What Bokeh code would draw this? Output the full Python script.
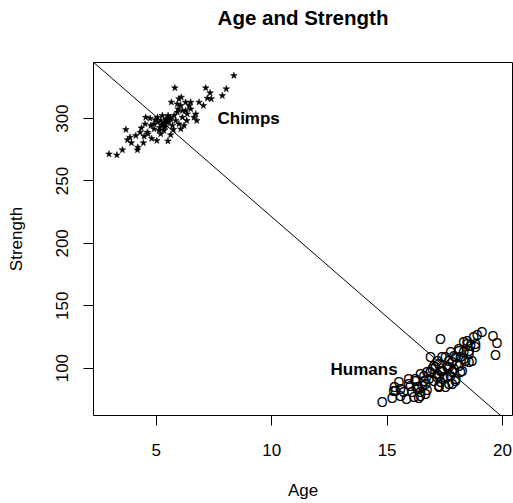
from bokeh.plotting import figure
from bokeh.models import Range1d, FixedTicker, Slope, ColumnDataSource, Title
from bokeh.embed import file_html
from bokeh.resources import INLINE
from bokeh.core.properties import value

# ---- data ----
chimp_age = [2.95, 3.29, 3.53, 4.18, 3.68, 3.86, 3.92, 4.11, 4.44, 4.47, 4.64, 5.02, 4.54, 4.73,
             4.51, 4.90, 5.19, 5.33, 5.62, 5.74, 5.31, 5.05, 5.19, 5.41, 5.51, 5.70, 5.84, 5.98,
             6.06, 6.20, 6.13, 5.91, 5.94, 6.06, 6.27, 6.42, 6.49, 6.34, 6.32, 5.65, 5.98, 6.08,
             5.80, 6.49, 6.63, 6.75, 6.71, 6.85, 7.04, 7.14, 7.33, 7.21, 7.38, 7.86, 8.03, 8.36,
             5.05, 5.26, 4.90, 4.76, 4.61, 5.77, 5.62, 5.48, 5.33, 5.12, 6.13, 6.27, 5.91,
             5.35, 5.45, 5.25, 5.55, 5.40, 5.60, 4.95, 5.15, 4.30, 4.80, 4.20, 5.50, 3.75, 4.35]
chimp_strength = [271.6, 270.8, 274.9, 274.9, 291.2, 285.0, 280.5, 286.3, 280.5, 285.8, 287.7, 282.3,
                  301.0, 300.2, 295.7, 291.7, 287.7, 290.4, 286.9, 291.2, 295.7, 297.0, 298.4, 299.7,
                  302.4, 294.4, 298.4, 295.7, 291.7, 294.4, 301.0, 305.1, 307.7, 310.4, 313.1, 310.4,
                  307.7, 303.7, 298.4, 313.1, 315.8, 317.1, 324.6, 313.1, 301.0, 298.4, 303.7, 313.1,
                  310.4, 324.6, 320.6, 316.3, 315.8, 318.4, 323.8, 334.5,
                  301.0, 302.4, 295.7, 294.4, 289.0, 302.4, 299.7, 297.0, 293.0, 290.4, 306.4, 306.4,
                  311.7, 296.5, 298.5, 295.0, 297.5, 293.5, 300.8, 299.0, 293.0, 289.0, 284.0, 277.0,
                  282.0, 283.0, 292.5]

human_age = [14.79, 15.22, 15.36, 15.32, 15.51, 15.58, 15.58, 15.72, 15.84, 15.94, 16.01, 16.08,
             16.16, 16.23, 16.30, 16.37, 16.44, 16.52, 16.59, 16.66, 16.73, 16.44, 16.73, 16.81,
             16.95, 17.02, 16.88, 17.17, 17.02, 17.17, 17.24, 17.31, 17.38, 17.45, 17.53, 17.60,
             17.67, 17.74, 17.82, 17.89, 17.89, 17.96, 18.03, 18.10, 18.18, 18.25, 18.32, 18.32,
             18.39, 18.47, 18.54, 18.61, 18.68, 18.75, 18.83, 18.90, 19.11, 17.31, 19.59, 19.76,
             19.69,
             18.47, 18.83, 18.54, 18.11, 17.75, 17.53, 17.97, 18.33, 18.54, 17.82, 18.11, 17.68,
             17.24, 17.39, 17.82, 18.18, 17.24, 17.60, 17.97, 17.32, 17.68, 17.24,
             16.22, 16.30, 16.44, 16.66, 16.59, 16.87, 17.09, 17.16, 15.94, 15.29]
human_strength = [72.5, 76.0, 81.8, 85.1, 88.5, 83.2, 77.8, 80.5, 75.2, 91.2, 85.9, 80.5,
                  77.0, 89.9, 84.5, 76.0, 80.5, 85.9, 89.9, 79.2, 82.5, 95.2, 96.5, 91.2,
                  99.2, 89.9, 108.6, 105.9, 101.9, 95.2, 85.9, 97.9, 108.6, 92.5, 84.5, 100.5,
                  105.9, 93.9, 87.2, 109.9, 99.2, 89.9, 103.2, 115.3, 108.6, 97.9, 120.6, 112.6,
                  105.9, 119.3, 111.3, 117.9, 105.9, 124.6, 119.3, 126.8, 128.6, 123.3, 126.0, 119.8,
                  110.7,
                  122.0, 116.6, 114.0, 114.0, 112.6, 108.6, 108.6, 107.3, 104.6, 104.6, 101.9, 100.6,
                  103.3, 97.9, 96.6, 96.6, 93.9, 92.6, 91.2, 88.6, 87.2, 84.5,
                  91.2, 83.2, 77.9, 87.2, 93.9, 96.6, 100.6, 92.6, 87.2, 81.9]

line_intercept = 381.7
line_slope = -16.05

group_labels = ["Chimps", "Humans"]
label_age = [9.0, 14.0]
label_strength = [300.0, 99.0]

x_ticks = [5, 10, 15, 20]
y_ticks = [100, 150, 200, 250, 300]

title_text = "Age and Strength"
x_label = "Age"
y_label = "Strength"

FONT = "Liberation Sans"

# axis limits like R: data range extended by 4%
def ext(vals):
    lo, hi = min(vals), max(vals)
    d = (hi - lo) * 0.04
    return lo - d, hi + d

x0, x1 = ext(chimp_age + human_age)
y0, y1 = ext(chimp_strength + human_strength)

p = figure(width=513, height=503, output_backend="svg", toolbar_location=None,
           x_range=Range1d(x0, x1), y_range=Range1d(y0, y1),
           min_border_left=93, min_border_right=1, min_border_top=62, min_border_bottom=88)

# empty spacer between the plot box and the title, so the title sits higher
p.add_layout(Title(text=" ", text_font_size="1px", standoff=24), "above")

p.title.text = title_text
p.title.align = "center"
p.title.vertical_align = "top"
p.title.text_font = FONT
p.title.text_font_size = "20.5px"
p.title.text_font_style = "bold"
p.title.text_color = "black"
p.title.standoff = 10

p.xgrid.visible = False
p.ygrid.visible = False
p.outline_line_color = "black"
p.outline_line_width = 1
p.outline_line_alpha = 1.0

for ax in (p.xaxis[0], p.yaxis[0]):
    ax.axis_line_color = "black"
    ax.major_tick_line_color = "black"
    ax.minor_tick_line_color = None
    ax.major_tick_in = 0
    ax.major_tick_out = 10
    ax.major_label_text_font = FONT
    ax.major_label_text_font_size = "17px"
    ax.major_label_text_color = "black"
    ax.axis_label_text_font = FONT
    ax.axis_label_text_font_size = "17px"
    ax.axis_label_text_font_style = "normal"
    ax.axis_label_text_color = "black"

p.xaxis.ticker = FixedTicker(ticks=x_ticks)
p.yaxis.ticker = FixedTicker(ticks=y_ticks)
p.xaxis.bounds = (min(x_ticks), max(x_ticks))
p.yaxis.bounds = (min(y_ticks), max(y_ticks))
p.xaxis.axis_label = x_label
p.yaxis.axis_label = y_label
p.xaxis.major_label_standoff = 18
p.xaxis.axis_label_standoff = 22
p.yaxis.major_label_standoff = 15
p.yaxis.axis_label_standoff = 28
p.yaxis.major_label_orientation = "vertical"

p.add_layout(Slope(gradient=line_slope, y_intercept=line_intercept,
                   line_color="black", line_width=1))

chimps = ColumnDataSource(dict(x=chimp_age, y=chimp_strength))
humans = ColumnDataSource(dict(x=human_age, y=human_strength, t=["O"] * len(human_age)))

p.scatter("x", "y", source=chimps, marker="star", size=7,
          fill_color="black", line_color="black", line_width=0.5)
p.text("x", "y", text="t", source=humans, text_font=value(FONT), text_font_size="14px",
       text_align="center", text_baseline="middle", text_color="black")

labels = ColumnDataSource(dict(x=label_age, y=label_strength, t=group_labels))
p.text("x", "y", text="t", source=labels, text_font=value(FONT), text_font_size="17px",
       text_font_style="bold", text_align="center", text_baseline="middle", text_color="black")

open("out.html", "w").write(file_html(p, INLINE))
